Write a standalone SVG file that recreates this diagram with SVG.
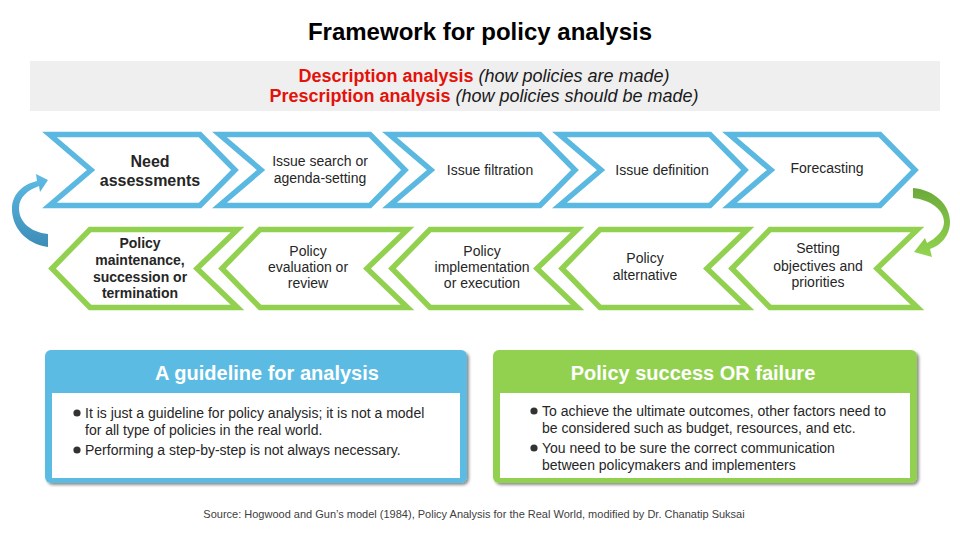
<svg xmlns="http://www.w3.org/2000/svg" xmlns:xlink="http://www.w3.org/1999/xlink" width="960" height="540" viewBox="0 0 960 540">
<style>
text{font-family:"Liberation Sans",Arial,sans-serif;fill:#262626}
.t{font-size:14px;text-anchor:middle}
.tb{font-size:14px;font-weight:bold;text-anchor:middle}
.b{font-size:14px}
.hd{font-size:20px;font-weight:bold;fill:#fff;text-anchor:middle}
.cb{fill:#fff;stroke:#5BB8E1;stroke-width:5.5;stroke-linejoin:miter}
.cg{fill:#fff;stroke:#92D14F;stroke-width:5.5;stroke-linejoin:miter}
.red{fill:#E3120B;font-weight:bold}
.it{font-style:italic;fill:#1a1a1a}
.dot{fill:#333}
</style>
<defs>
<polygon id="chevB" points="2.5,134.5 153,134.5 188,170 153,205.5 2.5,205.5 44,170"/>
<polygon id="chevG" points="4,268.5 42,229.5 189.5,229.5 149,268.5 189.5,307.5 42,307.5"/>
<linearGradient id="gB" x1="0" y1="0" x2="0" y2="1">
<stop offset="0" stop-color="#5FBCE6"/><stop offset="1" stop-color="#3C8CB6"/>
</linearGradient>
<linearGradient id="gG" x1="0" y1="0" x2="0" y2="1">
<stop offset="0" stop-color="#6BAA3A"/><stop offset="1" stop-color="#93D450"/>
</linearGradient>
<filter id="sh" x="-5%" y="-5%" width="112%" height="115%">
<feDropShadow dx="2" dy="2" stdDeviation="1.8" flood-color="#000" flood-opacity="0.45"/>
</filter>
</defs>
<rect width="960" height="540" fill="#fff"/>
<text x="480" y="40" style="font-size:24px;font-weight:bold;fill:#000" text-anchor="middle">Framework for policy analysis</text>
<g id="banner">
<rect x="30" y="61" width="910" height="50" fill="#EFEFEF"/>
<text x="484" y="82" style="font-size:18px" text-anchor="middle"><tspan class="red">Description analysis</tspan><tspan class="it"> (how policies are made)</tspan></text>
<text x="484" y="102" style="font-size:18px" text-anchor="middle"><tspan class="red">Prescription analysis</tspan><tspan class="it"> (how policies should be made)</tspan></text>
</g>
<g id="n1"><use xlink:href="#chevB" class="cb" x="47"/>
<text x="150" y="167" class="tb" style="font-size:16px">Need</text>
<text x="150" y="186" class="tb" style="font-size:16px">assessments</text></g>
<g id="n2"><use xlink:href="#chevB" class="cb" x="217"/>
<text x="320" y="166" class="t">Issue search or</text>
<text x="320" y="183" class="t">agenda-setting</text></g>
<g id="n3"><use xlink:href="#chevB" class="cb" x="387"/>
<text x="490" y="175" class="t">Issue filtration</text></g>
<g id="n4"><use xlink:href="#chevB" class="cb" x="557"/>
<text x="662" y="175" class="t">Issue definition</text></g>
<g id="n5"><use xlink:href="#chevB" class="cb" x="727"/>
<text x="827" y="173" class="t">Forecasting</text></g>
<g id="n6"><use xlink:href="#chevG" class="cg" x="728"/>
<text x="818" y="253" class="t">Setting</text>
<text x="818" y="271" class="t">objectives and</text>
<text x="818" y="287" class="t">priorities</text></g>
<g id="n7"><use xlink:href="#chevG" class="cg" x="558"/>
<text x="645" y="263" class="t">Policy</text>
<text x="645" y="280" class="t">alternative</text></g>
<g id="n8"><use xlink:href="#chevG" class="cg" x="388"/>
<text x="482" y="256" class="t">Policy</text>
<text x="482" y="272" class="t">implementation</text>
<text x="482" y="288" class="t">or execution</text></g>
<g id="n9"><use xlink:href="#chevG" class="cg" x="218"/>
<text x="308" y="256" class="t">Policy</text>
<text x="308" y="272" class="t">evaluation or</text>
<text x="308" y="288" class="t">review</text></g>
<g id="n10"><use xlink:href="#chevG" class="cg" x="48"/>
<text x="140" y="248" class="tb">Policy</text>
<text x="140" y="265" class="tb">maintenance,</text>
<text x="140" y="282" class="tb">succession or</text>
<text x="140" y="298" class="tb">termination</text></g>
<g id="connectors">
<path d="M48,247 C26,244 11,227 12,207 C13,193 24,184 37,181 L36,174 L48,180 L40,192 L39,186 C28,190 19,197 19,208 C19,222 30,232 48,234 Z" fill="url(#gB)"/>
<path d="M913,188 C935,190 950,205 950,222 C950,236 940,246 930,249 L932,257 L914,252 L925,238 L927,243 C936,238 944,231 944,222 C944,210 931,200 913,198 Z" fill="url(#gG)"/>
</g>
<g id="box1">
<rect x="45" y="350" width="422" height="133" rx="6" fill="#5BBBE3" filter="url(#sh)"/>
<rect x="52" y="393" width="408" height="85" fill="#fff"/>
<text x="267" y="380" class="hd">A guideline for analysis</text>
<circle cx="77" cy="413" r="3.6" class="dot"/>
<text x="85" y="418" class="b">It is just a guideline for policy analysis; it is not a model</text>
<text x="85" y="435" class="b">for all type of policies in the real world.</text>
<circle cx="77" cy="450" r="3.6" class="dot"/>
<text x="85" y="455" class="b">Performing a step-by-step is not always necessary.</text>
</g>
<g id="box2">
<rect x="493" y="350" width="424" height="133" rx="6" fill="#92D14F" filter="url(#sh)"/>
<rect x="500" y="393" width="410" height="85" fill="#fff"/>
<text x="693" y="380" class="hd">Policy success OR failure</text>
<circle cx="534" cy="411" r="3.6" class="dot"/>
<text x="542" y="416" class="b">To achieve the ultimate outcomes, other factors need to</text>
<text x="542" y="433" class="b">be considered such as budget, resources, and etc.</text>
<circle cx="534" cy="448" r="3.6" class="dot"/>
<text x="542" y="453" class="b">You need to be sure the correct communication</text>
<text x="542" y="470" class="b">between policymakers and implementers</text>
</g>
<text x="474" y="518" text-anchor="middle" style="font-size:11px;fill:#404040">Source: Hogwood and Gun’s model (1984), Policy Analysis for the Real World, modified by Dr. Chanatip Suksai</text>
</svg>
